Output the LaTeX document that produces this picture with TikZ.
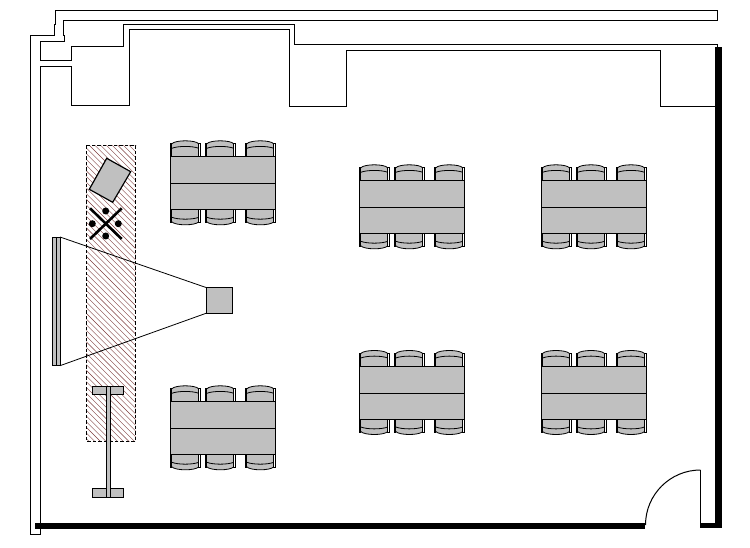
\documentclass[tikz,border=0pt]{standalone}
\definecolor{furn}{RGB}{192,192,192}
\definecolor{hatchred}{RGB}{125,60,60}
\newcommand{\chairshape}{%
  \path[fill=furn] (1.5,0) -- (1.5,-12.5) .. controls (5,-16.5) and (25,-16.5) .. (28.5,-12.5) -- (28.5,0) -- cycle;
  \draw[line width=0.8pt] (1.5,-12.5) .. controls (5,-16.5) and (25,-16.5) .. (28.5,-12.5);
  \draw[line width=0.8pt] (1.5,-8) .. controls (8,-10.5) and (22,-10.5) .. (28.5,-8);
  \draw[line width=0.8pt] (0,0) -- (0,-13) -- (1.5,-13) -- (1.5,0);
  \draw[line width=0.8pt] (30,0) -- (30,-13) -- (28.5,-13) -- (28.5,0);
}
\tikzset{
  wall/.style={draw=black,line width=1.25pt,miter limit=10},
  furnbox/.style={draw=black,fill=furn,line width=0.9pt},
  beamline/.style={draw=black,line width=0.8pt},
  tablepic/.pic={
    \foreach \cx in {0,35,75}{
      \begin{scope}[shift={(\cx,0)}]
        \chairshape
      \end{scope}
      \begin{scope}[shift={(\cx,53)},yscale=-1]
        \chairshape
      \end{scope}
    }
    \draw[furnbox] (0,0) rectangle (105,53);
    \draw[line width=0.9pt] (0,27) -- (105,27);
  },
}
\begin{document}
\begin{tikzpicture}[x=1pt,y=-1pt]
\useasboundingbox (0,0) rectangle (750,548);
\fill[white] (0,0) rectangle (750,548);
% hatched zone
\begin{scope}
  \clip (86.3,145.3) rectangle (135.7,441.3);
  \foreach \k in {-60,-54.3,...,400}{
    \draw[hatchred,line width=0.4pt] (86,145+\k) -- (136,195+\k);
  }
\end{scope}
\draw[black,dash pattern=on 3.5pt off 2pt,line width=0.7pt] (86.3,145.3) rectangle (135.7,441.3);
% building outline
\draw[wall] (717.5,44.5) -- (294.5,44.5) -- (294.5,24.5) -- (123.5,24.5) -- (123.5,46.5) -- (71.5,46.5) -- (71.5,60.5) -- (40.5,60.5) -- (40.5,41.5) -- (64.5,41.5) -- (64.5,35.5) -- (63.5,35.5) -- (63.5,20.5) -- (717.5,20.5) -- (717.5,10.5) -- (55.5,10.5) -- (55.5,24.5) -- (54.5,24.5) -- (54.5,35.5) -- (30.5,35.5) -- (30.5,534.5) -- (40.5,534.5) -- (40.5,66.5) -- (71.5,66.5) -- (71.5,105.5) -- (129.5,105.5) -- (129.5,29.5) -- (289.5,29.5) -- (289.5,106.5) -- (346.5,106.5) -- (346.5,50.5) -- (660.5,50.5) -- (660.5,106.5) -- (716,106.5);
\draw[wall] (717.5,44.5) -- (717.5,48);
% thick walls and door
\fill[black] (715,47) rectangle (722,527.5);
\fill[black] (700,522.7) rectangle (722,527.5);
\fill[black] (35,523) rectangle (645,529);
\draw[wall] (700.5,524) -- (700.5,470);
\draw[line width=1pt] (700.5,470) arc[start angle=-90,end angle=-180,radius=55];
% tables
\path (170.3,156.3) pic {tablepic};
\path (170.3,401.3) pic {tablepic};
\path (359.3,180.3) pic {tablepic};
\path (541,180.3) pic {tablepic};
\path (359.3,366) pic {tablepic};
\path (541,366) pic {tablepic};
% tilted panel
\draw[furnbox,line width=1.2pt] (106.7,158.3) -- (130.7,171.7) -- (112.7,202.3) -- (89.3,189.3) -- cycle;
% cross with dots
\draw[black,line width=2.6pt] (90,239) -- (121.7,208.3);
\draw[black,line width=2.6pt] (90,208.3) -- (121.7,239);
\foreach \px/\py in {105.7/211,92.3/223.7,118.3/223.7,105.7/236}{
  \fill[black] (\px,\py) circle[radius=3.5];
}
% screen
\draw[furnbox] (52.5,237) rectangle (60,365.7);
\draw[line width=0.9pt] (56.3,237) -- (56.3,365.7);
% projector
\draw[beamline] (60,237) -- (206,287.5);
\draw[beamline] (60,365.7) -- (206,313.3);
\draw[furnbox] (206,287.5) rectangle (232.7,313.3);
\draw[line width=1.2pt] (206,287.5) -- (232.7,287.5);
% I-shaped lectern
\draw[furnbox,line width=0.7pt] (92.3,386.3) rectangle (123.7,394.3);
\draw[furnbox,line width=0.7pt] (92.3,488.3) rectangle (123.7,497.3);
\draw[furnbox,line width=0.7pt] (106,386.3) rectangle (110,497.3);
\end{tikzpicture}
\end{document}
